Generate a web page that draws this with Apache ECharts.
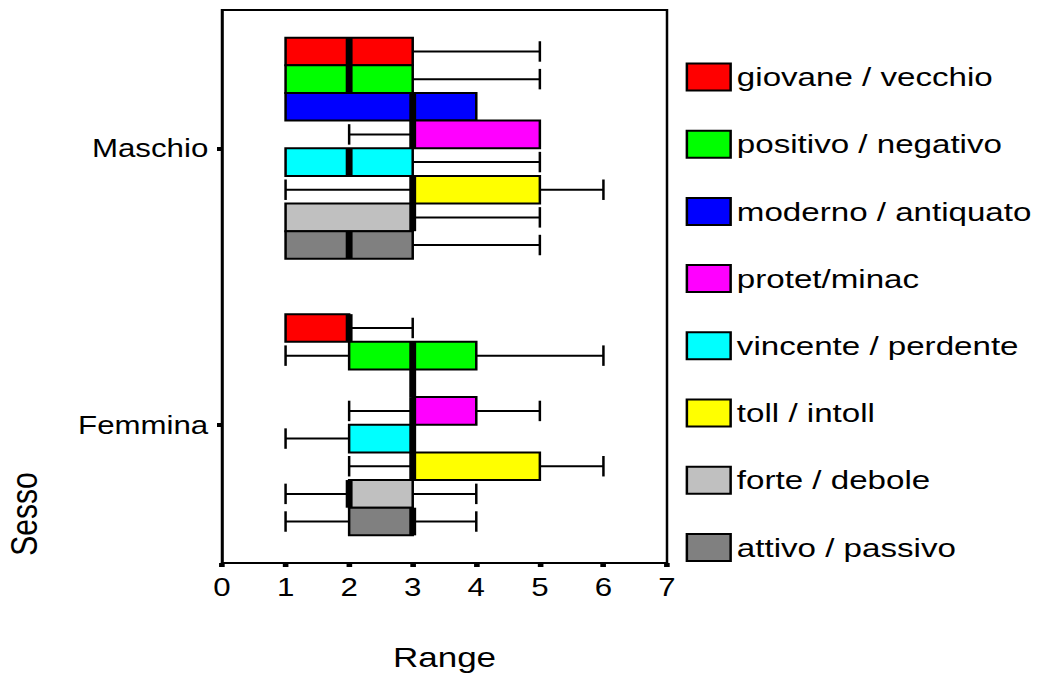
<!DOCTYPE html>
<html>
<head>
<meta charset="utf-8">
<script src="https://cdn.jsdelivr.net/npm/echarts@6/dist/echarts.min.js"></script>
<style>
  html, body { margin: 0; padding: 0; background: #fff; overflow: hidden; }
  #chart { width: 832px; height: 677px; transform: scaleX(1.25); transform-origin: 0 0; }
</style>
</head>
<body>
<div id="chart"></div>
<script>
// Categories (y axis) and axis labels
const categories = ['Maschio', 'Femmina'];
const xTicks = [0, 1, 2, 3, 4, 5, 6, 7];
const seriesNames = [
  'giovane / vecchio', 'positivo / negativo', 'moderno / antiquato', 'protet/minac',
  'vincente / perdente', 'toll / intoll', 'forte / debole', 'attivo / passivo'
];
const seriesColors = ['#ff0000', '#00ff00', '#0000ff', '#ff00ff', '#00ffff', '#ffff00', '#c0c0c0', '#808080'];

// [min, Q1, median, Q3, max] for Maschio, then Femmina
const giovaneVecchio   = [[1, 1, 2, 3, 5], [1, 1, 2, 2, 3]];
const positivoNegativo = [[1, 1, 2, 3, 5], [1, 2, 3, 4, 6]];
const modernoAntiquato = [[1, 1, 3, 4, 4], [3, 3, 3, 3, 3]];
const protetMinac      = [[2, 3, 3, 5, 5], [2, 3, 3, 4, 5]];
const vincentePerdente = [[1, 1, 2, 3, 5], [1, 2, 3, 3, 3]];
const tollIntoll       = [[1, 3, 3, 5, 6], [2, 3, 3, 5, 6]];
const forteDebole      = [[1, 1, 3, 3, 5], [1, 2, 2, 3, 4]];
const attivoPassivo    = [[1, 1, 2, 3, 5], [1, 2, 3, 3, 4]];

const allStats = [giovaneVecchio, positivoNegativo, modernoAntiquato, protetMinac,
                  vincentePerdente, tollIntoll, forteDebole, attivoPassivo];

const FONT = '"Liberation Sans", Arial, Helvetica, sans-serif';

function renderBox(params, api) {
  const cat = api.value(0);
  const vals = [api.value(1), api.value(2), api.value(3), api.value(4), api.value(5)];
  const band = api.size([0, 1])[1];
  const n = seriesNames.length;
  const rowH = band * 0.8 / n;
  const cy = api.coord([0, cat])[1];
  const top = cy - band * 0.4 + params.seriesIndex * rowH;
  const mid = top + rowH / 2;
  const xs = vals.map(v => api.coord([v, cat])[0]);
  const cap = rowH * 0.37;
  const ls = { stroke: '#000', lineWidth: 2 };
  const children = [];
  if (xs[0] < xs[1] - 0.5) {
    children.push({ type: 'line', shape: { x1: xs[0], y1: mid, x2: xs[1], y2: mid }, style: ls });
    children.push({ type: 'line', shape: { x1: xs[0], y1: mid - cap, x2: xs[0], y2: mid + cap }, style: ls });
  }
  if (xs[4] > xs[3] + 0.5) {
    children.push({ type: 'line', shape: { x1: xs[3], y1: mid, x2: xs[4], y2: mid }, style: ls });
    children.push({ type: 'line', shape: { x1: xs[4], y1: mid - cap, x2: xs[4], y2: mid + cap }, style: ls });
  }
  if (xs[3] > xs[1] + 0.5) {
    children.push({ type: 'rect', shape: { x: xs[1], y: top, width: xs[3] - xs[1], height: rowH },
      style: { fill: api.visual('color'), stroke: '#000', lineWidth: 2 } });
  }
  children.push({ type: 'line', shape: { x1: xs[2], y1: top, x2: xs[2], y2: top + rowH },
    style: { stroke: '#000', lineWidth: 5.5 } });
  return { type: 'group', children };
}

const series = seriesNames.map((name, i) => ({
  name,
  type: 'custom',
  renderItem: renderBox,
  itemStyle: { color: seriesColors[i] },
  encode: { x: [1, 2, 3, 4, 5], y: 0 },
  data: allStats[i].map((s, c) => [c].concat(s))
}));

const chart = echarts.init(document.getElementById('chart'), null, { renderer: 'svg' });
chart.setOption({
  animation: false,
  backgroundColor: '#fff',
  grid: { left: 177.6, right: 298.4, top: 10, bottom: 114, show: true, borderColor: '#000', borderWidth: 2 },
  legend: {
    orient: 'vertical',
    left: 548.5,
    top: 62.5,
    padding: 0,
    icon: 'rect',
    itemWidth: 35,
    itemHeight: 27,
    itemGap: 38.2,
    selectedMode: false,
    itemStyle: { borderColor: '#000', borderWidth: 2 },
    textStyle: { fontFamily: FONT, fontSize: 26.5, lineHeight: 27, color: '#000' },
    data: seriesNames
  },
  xAxis: {
    type: 'value',
    min: xTicks[0],
    max: xTicks[xTicks.length - 1],
    interval: 1,
    name: 'Range',
    nameLocation: 'middle',
    nameGap: 80,
    nameTextStyle: { fontFamily: FONT, fontSize: 28, color: '#000' },
    axisLine: { show: true, lineStyle: { color: '#000', width: 2 } },
    axisTick: { show: true, length: 4, lineStyle: { color: '#000', width: 4.5 } },
    axisLabel: { fontFamily: FONT, fontSize: 25, color: '#000', margin: 12 },
    splitLine: { show: false }
  },
  yAxis: {
    type: 'category',
    data: categories,
    inverse: true,
    axisLine: { show: true, lineStyle: { color: '#000', width: 2 } },
    axisTick: { show: true, alignWithLabel: true, length: 4, lineStyle: { color: '#000', width: 4 } },
    axisLabel: { fontFamily: FONT, fontSize: 25, color: '#000', margin: 11 },
    splitLine: { show: false }
  },
  graphic: [{
    type: 'text',
    x: 19,
    y: 514,
    rotation: Math.PI / 2,
    style: { text: 'Sesso', font: '30px ' + FONT, fill: '#000', align: 'center', verticalAlign: 'middle' }
  }],
  series
});
</script>
</body>
</html>
